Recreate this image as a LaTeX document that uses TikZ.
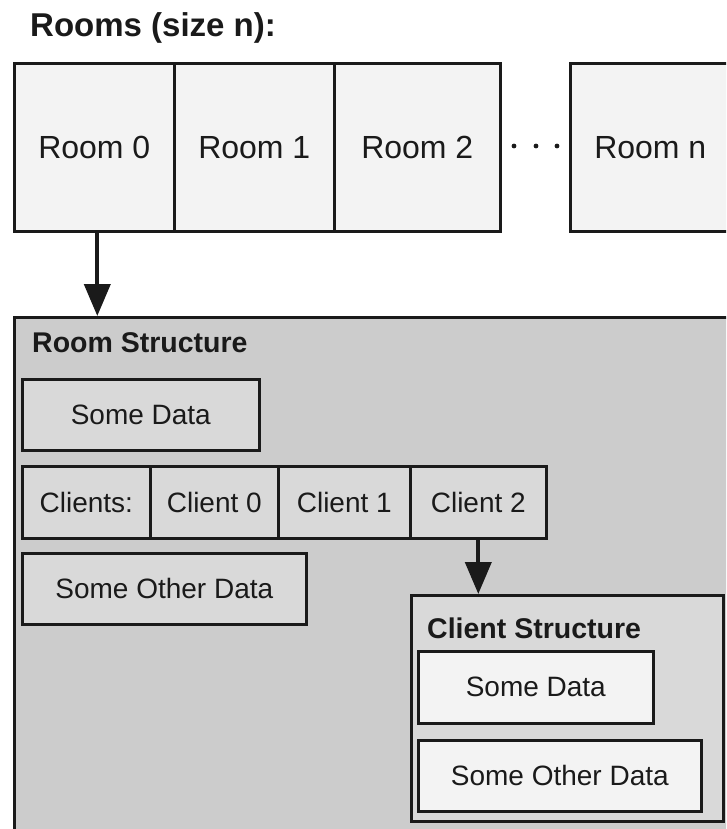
\documentclass[tikz,border=0pt]{standalone}
\usepackage{fontspec}
\setmainfont{Liberation Sans}
\usetikzlibrary{arrows.meta}

\definecolor{ink}{HTML}{1A1A1A}
\definecolor{cellfill}{HTML}{F3F3F3}
\definecolor{panelfill}{HTML}{CCCCCC}
\definecolor{midfill}{HTML}{D9D9D9}

\tikzset{
  box/.style={draw=ink, line width=2.6pt, rectangle, inner sep=0pt,
    anchor=north west, text=ink},
  roomcell/.style={box, fill=cellfill, minimum height=168pt,
    font=\fontsize{32}{38}\selectfont},
  databox/.style={box, minimum height=71pt,
    font=\fontsize{28}{34}\selectfont},
  heading/.style={anchor=base west, inner sep=0pt, text=ink,
    font=\fontsize{28.5}{34}\selectfont\bfseries},
  link/.style={draw=ink, line width=4pt,
    -{Triangle[length=32pt,width=26pt]}},
  gap/.style={fill=ink, circle, inner sep=0pt, minimum size=4.8pt}
}

\begin{document}
\begin{tikzpicture}[x=1pt, y=-1pt]
  \useasboundingbox (0,0) rectangle (726,829);
  \clip (0,0) rectangle (726,829);
  \fill[white] (0,0) rectangle (726,829);

  % array of rooms
  \node[anchor=base west, inner sep=0pt, text=ink,
        font=\fontsize{33}{38}\selectfont\bfseries] (title) at (30,37) {Rooms (size n):};
  \node[roomcell, minimum width=160pt] (r0) at (13,62)  {Room 0};
  \node[roomcell, minimum width=160pt] (r1) at (173,62) {Room 1};
  \node[roomcell, minimum width=166pt] (r2) at (333,62) {Room 2};
  \node[roomcell, minimum width=160pt] (rn) at (569,62) {Room n};
  \node[gap] (d1) at (514,146) {};
  \node[gap] (d2) at (536,146) {};
  \node[gap] (d3) at (557,146) {};

  % contents of one room
  \node[box, fill=panelfill, minimum width=760pt, minimum height=560pt] (rs) at (13,316) {};
  \node[heading] (rslabel) at (32,352) {Room Structure};
  \node[databox, fill=midfill, minimum width=237pt] (rdata) at (21,378) {Some Data};
  \node[databox, fill=midfill, minimum width=128pt, minimum height=72pt] (clients) at (21,465) {Clients:};
  \node[databox, fill=midfill, minimum width=128pt, minimum height=72pt] (c0) at (149,465) {Client 0};
  \node[databox, fill=midfill, minimum width=132pt, minimum height=72pt] (c1) at (277,465) {Client 1};
  \node[databox, fill=midfill, minimum width=136pt, minimum height=72pt] (c2) at (409,465) {Client 2};
  \node[databox, fill=midfill, minimum width=284pt] (rother) at (21,552) {Some Other Data};

  % contents of one client
  \node[box, fill=midfill, minimum width=312pt, minimum height=226pt] (cs) at (410,594) {};
  \node[heading] (cslabel) at (427,638) {Client Structure};
  \node[databox, fill=cellfill, minimum width=235pt, minimum height=72pt] (cdata) at (417,650) {Some Data};
  \node[databox, fill=cellfill, minimum width=283pt] (cother) at (417,739) {Some Other Data};

  % pointers
  \draw[link] ([xshift=3pt]r0.south) -- ([xshift=3pt]r0.south |- rs.north);
  \draw[link] (c2.south) -- (c2.south |- cs.north);
\end{tikzpicture}
\end{document}
